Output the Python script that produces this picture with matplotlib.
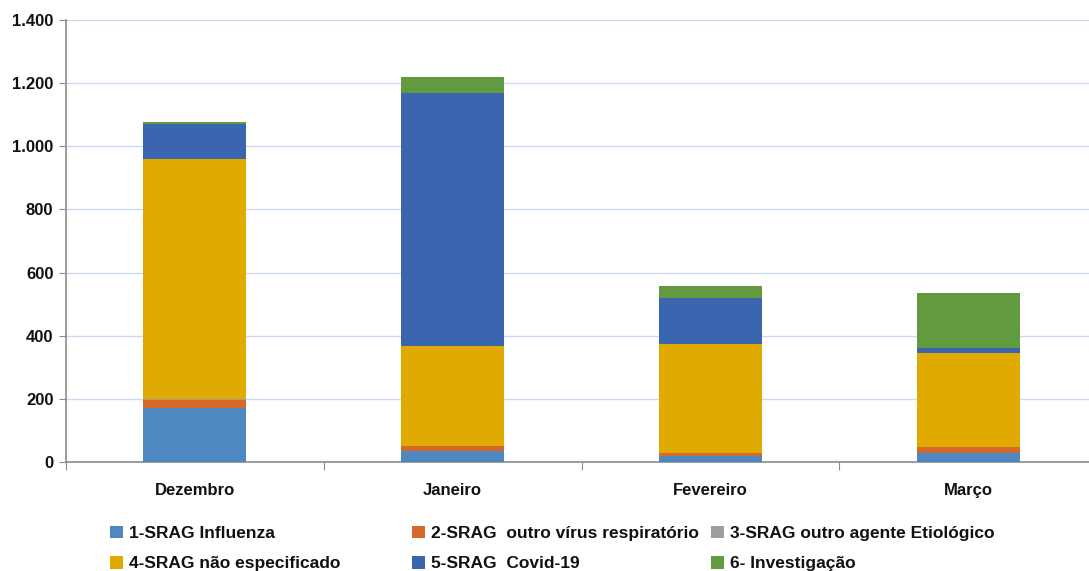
import matplotlib.pyplot as plt
from matplotlib.ticker import FuncFormatter, FixedLocator, NullFormatter
from matplotlib.patches import Patch

meses = ["Dezembro", "Janeiro", "Fevereiro", "Março"]

influenza = [170, 36, 20, 28]
outro_virus = [26, 14, 9, 18]
outro_agente = [3, 1, 1, 1]
nao_especificado = [761, 316, 344, 298]
covid = [110, 802, 147, 15]
investigacao = [7, 49, 36, 174]

series = [
    ("1-SRAG Influenza", influenza, "#4F87C0"),
    ("2-SRAG  outro vírus respiratório", outro_virus, "#D4692A"),
    ("3-SRAG outro agente Etiológico", outro_agente, "#9E9E9E"),
    ("4-SRAG não especificado", nao_especificado, "#E1AA00"),
    ("5-SRAG  Covid-19", covid, "#3B65AF"),
    ("6- Investigação", investigacao, "#629B3F"),
]

BOLD = ["Liberation Sans", "DejaVu Sans"]

fig = plt.figure(figsize=(10.89, 5.71), dpi=100)
ax = fig.add_axes([66 / 1089, 1 - 462 / 571, (1097 - 66) / 1089, 442 / 571])

x = range(len(meses))
bottom = [0] * len(meses)
handles = []
for label, vals, color in series:
    ax.bar(x, vals, width=0.4, bottom=bottom, color=color, zorder=3)
    bottom = [b + v for b, v in zip(bottom, vals)]
    handles.append(Patch(facecolor=color, label=label))

ax.set_xlim(-0.5, 3.5)
ax.set_ylim(0, 1400)
ax.set_yticks(range(0, 1401, 200))
ax.yaxis.set_major_formatter(FuncFormatter(lambda v, p: f"{int(v):,}".replace(",", ".")))
ax.grid(axis="y", color="#C9DBF2", linewidth=1, zorder=0)

# category labels at centres, tick marks at boundaries
ax.xaxis.set_major_locator(FixedLocator([-0.5, 0.5, 1.5, 2.5, 3.5]))
ax.xaxis.set_major_formatter(NullFormatter())
ax.xaxis.set_minor_locator(FixedLocator(list(x)))
ax.set_xticklabels(meses, minor=True)
ax.tick_params(axis="x", which="major", length=6, color="#8C8C8C", direction="out")
ax.tick_params(axis="x", which="minor", length=0, pad=15)
ax.tick_params(axis="y", length=5, color="#8C8C8C", pad=4)

for lbl in ax.get_xticklabels(minor=True) + ax.get_yticklabels():
    lbl.set_fontfamily(BOLD)
    lbl.set_fontweight("bold")
    lbl.set_fontsize(12)
    lbl.set_color("#111111")

for side in ("top", "right"):
    ax.spines[side].set_visible(False)
for side in ("left", "bottom"):
    ax.spines[side].set_color("#8C8C8C")
    ax.spines[side].set_linewidth(1.2)

# legend in three columns, two entries each
cols = [(107, [0, 3]), (409, [1, 4]), (708, [2, 5])]
for xpix, idx in cols:
    leg = fig.legend(
        handles=[handles[i] for i in idx],
        loc="upper left",
        bbox_to_anchor=(xpix / 1089 - 0.012, 1 - 510 / 571),
        frameon=False,
        handlelength=0.75,
        handleheight=0.75,
        handletextpad=0.35,
        labelspacing=0.85,
        prop={"family": BOLD, "size": 12.5, "weight": "bold"},
    )
    for t in leg.get_texts():
        t.set_color("#111111")

fig.savefig("out.png", dpi=100)
